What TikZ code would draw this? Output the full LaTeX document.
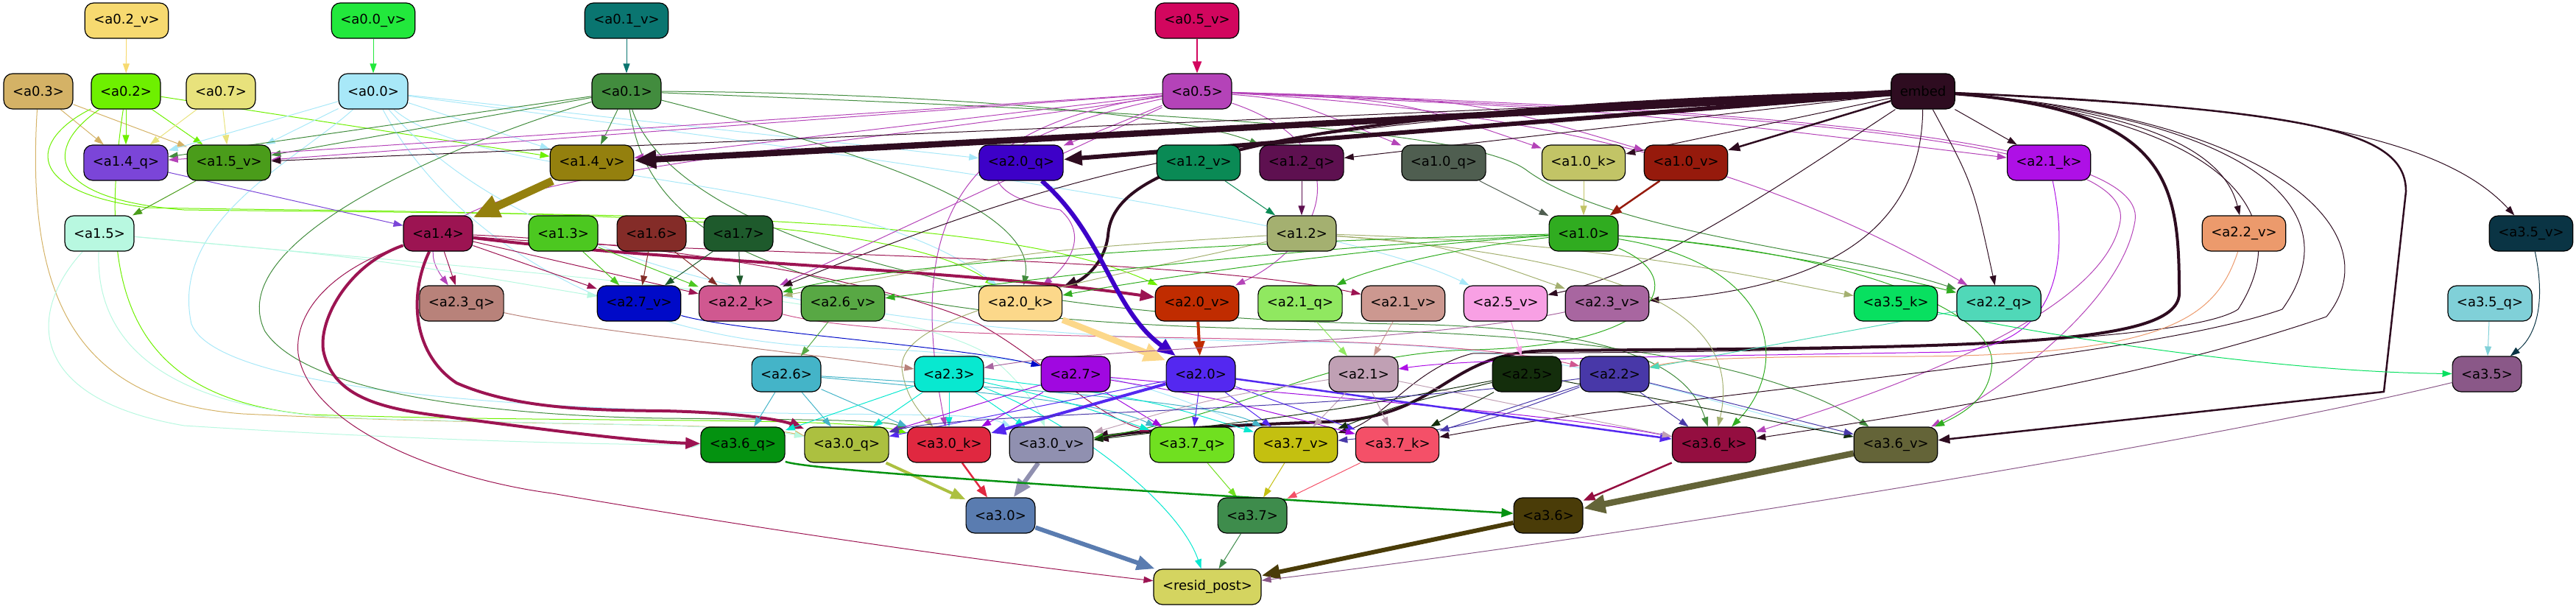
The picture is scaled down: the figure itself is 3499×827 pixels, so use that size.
\documentclass[tikz,border=0pt]{standalone}
\usepackage{fontspec}
\setmainfont{DejaVu Sans}
\usetikzlibrary{arrows.meta}
\pgfdeclarelayer{background}
\pgfsetlayers{background,main}
\definecolor{C02v}{HTML}{F7DA70}\definecolor{C00v}{HTML}{22E83C}\definecolor{C01v}{HTML}{0A7570}\definecolor{C05v}{HTML}{D2065E}
\definecolor{C03}{HTML}{D4B266}\definecolor{C02}{HTML}{6EF000}\definecolor{C07}{HTML}{E8E27C}\definecolor{C00}{HTML}{A8E8F8}
\definecolor{C01}{HTML}{428C3E}\definecolor{C05}{HTML}{B443B8}\definecolor{Cem}{HTML}{2E0C20}
\definecolor{C14q}{HTML}{7B45D8}\definecolor{C15v}{HTML}{4A9C1A}\definecolor{C14v}{HTML}{94800E}\definecolor{C20q}{HTML}{3D00C8}
\definecolor{C12v}{HTML}{0A8A55}\definecolor{C12q}{HTML}{5E1050}\definecolor{C10q}{HTML}{4F5E50}\definecolor{C10k}{HTML}{C2C466}
\definecolor{C10v}{HTML}{961A0C}\definecolor{C21k}{HTML}{AE10E6}
\definecolor{C15}{HTML}{B8F8E0}\definecolor{C14}{HTML}{9C1452}\definecolor{C13}{HTML}{4CC820}\definecolor{C16}{HTML}{842C28}
\definecolor{C17}{HTML}{1E5A2C}\definecolor{C12}{HTML}{A4B070}\definecolor{C10}{HTML}{30AC20}\definecolor{C22v}{HTML}{EC9A6C}
\definecolor{C35v}{HTML}{0A3444}
\definecolor{C23q}{HTML}{B8827A}\definecolor{C27v}{HTML}{000AC8}\definecolor{C22k}{HTML}{D05890}\definecolor{C26v}{HTML}{58A844}
\definecolor{C20k}{HTML}{FCD88A}\definecolor{C20v}{HTML}{C02C00}\definecolor{C21q}{HTML}{90E860}\definecolor{C21v}{HTML}{CC9890}
\definecolor{C25v}{HTML}{F8A0E4}\definecolor{C23v}{HTML}{A866A0}\definecolor{C35k}{HTML}{08E060}\definecolor{C22q}{HTML}{50D8B8}
\definecolor{C35q}{HTML}{80D0D8}
\definecolor{C26}{HTML}{44B4C8}\definecolor{C23}{HTML}{08E8D0}\definecolor{C27}{HTML}{A008E0}\definecolor{C20}{HTML}{5428F0}
\definecolor{C21}{HTML}{C0A0B4}\definecolor{C25}{HTML}{142E0C}\definecolor{C22}{HTML}{4838A8}\definecolor{C35}{HTML}{8A5888}
\definecolor{C36q}{HTML}{049210}\definecolor{C30q}{HTML}{ACC040}\definecolor{C30k}{HTML}{E02840}\definecolor{C30v}{HTML}{9090B0}
\definecolor{C37q}{HTML}{70E020}\definecolor{C37v}{HTML}{C4C010}\definecolor{C37k}{HTML}{F45068}\definecolor{C36k}{HTML}{940E40}
\definecolor{C36v}{HTML}{646438}\definecolor{C30}{HTML}{5A7CB0}\definecolor{C37}{HTML}{3E8C4C}\definecolor{C36}{HTML}{4A3C08}
\definecolor{Cres}{HTML}{D4D460}
\tikzset{
  nd/.style={draw=black, line width=1.2pt, rounded corners=12pt, minimum height=48pt, inner xsep=12pt, inner ysep=0pt, font=\fontsize{18}{21}\selectfont, text=black},
  e1/.style={draw=#1, line width=1pt, -{Triangle[length=13pt,width=9pt]}},
  e2/.style={draw=#1, line width=2.5pt, -{Triangle[length=16pt,width=12pt]}},
  e3/.style={draw=#1, line width=4pt, -{Triangle[length=20pt,width=15pt]}},
  e4/.style={draw=#1, line width=6pt, -{Triangle[length=25pt,width=19pt]}},
  e5/.style={draw=#1, line width=8.5pt, -{Triangle[length=30pt,width=24pt]}},
  e6/.style={draw=#1, line width=11pt, -{Triangle[length=36pt,width=30pt]}}
}
\begin{document}
\begin{tikzpicture}[x=1pt,y=-1pt]
\useasboundingbox (0,0) rectangle (3499,827);
% row 0
\node[nd,fill=C02v] (a02v) at (172,28) {<a0.2\_v>};
\node[nd,fill=C00v] (a00v) at (507,28) {<a0.0\_v>};
\node[nd,fill=C01v] (a01v) at (851,28) {<a0.1\_v>};
\node[nd,fill=C05v] (a05v) at (1626,28) {<a0.5\_v>};
% row 1
\node[nd,fill=C03] (a03) at (52,124) {<a0.3>};
\node[nd,fill=C02] (a02) at (171,124) {<a0.2>};
\node[nd,fill=C07] (a07) at (300,124) {<a0.7>};
\node[nd,fill=C00] (a00) at (507,124) {<a0.0>};
\node[nd,fill=C01] (a01) at (851,124) {<a0.1>};
\node[nd,fill=C05] (a05) at (1626,124) {<a0.5>};
\node[nd,fill=Cem] (emb) at (2612,124) {embed};
% row 2
\node[nd,fill=C14q] (a14q) at (171,221) {<a1.4\_q>};
\node[nd,fill=C15v] (a15v) at (311,221) {<a1.5\_v>};
\node[nd,fill=C14v] (a14v) at (804,221) {<a1.4\_v>};
\node[nd,fill=C20q] (a20q) at (1387,221) {<a2.0\_q>};
\node[nd,fill=C12v] (a12v) at (1628,221) {<a1.2\_v>};
\node[nd,fill=C12q] (a12q) at (1768,221) {<a1.2\_q>};
\node[nd,fill=C10q] (a10q) at (1961,221) {<a1.0\_q>};
\node[nd,fill=C10k] (a10k) at (2151,221) {<a1.0\_k>};
\node[nd,fill=C10v] (a10v) at (2290,221) {<a1.0\_v>};
\node[nd,fill=C21k] (a21k) at (2783,221) {<a2.1\_k>};
% row 3
\node[nd,fill=C15] (a15) at (135,317) {<a1.5>};
\node[nd,fill=C14] (a14) at (595,317) {<a1.4>};
\node[nd,fill=C13] (a13) at (765,317) {<a1.3>};
\node[nd,fill=C16] (a16) at (885,317) {<a1.6>};
\node[nd,fill=C17] (a17) at (1003,317) {<a1.7>};
\node[nd,fill=C12] (a12) at (1768,317) {<a1.2>};
\node[nd,fill=C10] (a10) at (2151,317) {<a1.0>};
\node[nd,fill=C22v] (a22v) at (3048,317) {<a2.2\_v>};
\node[nd,fill=C35v] (a35v) at (3438,317) {<a3.5\_v>};
% row 4
\node[nd,fill=C23q] (a23q) at (627,412) {<a2.3\_q>};
\node[nd,fill=C27v] (a27v) at (868,412) {<a2.7\_v>};
\node[nd,fill=C22k] (a22k) at (1006,412) {<a2.2\_k>};
\node[nd,fill=C26v] (a26v) at (1145,412) {<a2.6\_v>};
\node[nd,fill=C20k] (a20k) at (1386,412) {<a2.0\_k>};
\node[nd,fill=C20v] (a20v) at (1626,412) {<a2.0\_v>};
\node[nd,fill=C21q] (a21q) at (1766,412) {<a2.1\_q>};
\node[nd,fill=C21v] (a21v) at (1906,412) {<a2.1\_v>};
\node[nd,fill=C25v] (a25v) at (2045,412) {<a2.5\_v>};
\node[nd,fill=C23v] (a23v) at (2183,412) {<a2.3\_v>};
\node[nd,fill=C35k] (a35k) at (2575,412) {<a3.5\_k>};
\node[nd,fill=C22q] (a22q) at (2715,412) {<a2.2\_q>};
\node[nd,fill=C35q] (a35q) at (3382,412) {<a3.5\_q>};
% row 5
\node[nd,fill=C26] (a26) at (1068,508) {<a2.6>};
\node[nd,fill=C23] (a23) at (1289,508) {<a2.3>};
\node[nd,fill=C27] (a27) at (1461,508) {<a2.7>};
\node[nd,fill=C20] (a20) at (1631,508) {<a2.0>};
\node[nd,fill=C21] (a21) at (1852,508) {<a2.1>};
\node[nd,fill=C25] (a25) at (2074,508) {<a2.5>};
\node[nd,fill=C22] (a22) at (2193,508) {<a2.2>};
\node[nd,fill=C35] (a35) at (3378,508) {<a3.5>};
% row 6
\node[nd,fill=C36q] (a36q) at (1009,604) {<a3.6\_q>};
\node[nd,fill=C30q] (a30q) at (1150,604) {<a3.0\_q>};
\node[nd,fill=C30k] (a30k) at (1289,604) {<a3.0\_k>};
\node[nd,fill=C30v] (a30v) at (1428,604) {<a3.0\_v>};
\node[nd,fill=C37q] (a37q) at (1619,604) {<a3.7\_q>};
\node[nd,fill=C37v] (a37v) at (1760,604) {<a3.7\_v>};
\node[nd,fill=C37k] (a37k) at (1898,604) {<a3.7\_k>};
\node[nd,fill=C36k] (a36k) at (2328,604) {<a3.6\_k>};
\node[nd,fill=C36v] (a36v) at (2575,604) {<a3.6\_v>};
% row 7
\node[nd,fill=C30] (a30) at (1359,700) {<a3.0>};
\node[nd,fill=C37] (a37) at (1701,700) {<a3.7>};
\node[nd,fill=C36] (a36) at (2103,700) {<a3.6>};
% row 8
\node[nd,fill=Cres] (resid) at (1640,797) {<resid\_post>};

\begin{pgfonlayer}{background}
% row 0
\draw[e1=C02v] (a02v) -- (a02);
\draw[e1=C00v] (a00v) -- (a00);
\draw[e1=C01v] (a01v) -- (a01);
\draw[e2=C05v] (a05v) -- (a05);
% a0.3
\draw[e1=C03] (a03) -- (a14q);
\draw[e1=C03] (a03) -- (a15v);
\draw[e1=C03] (a03) .. controls (35,400) and (100,545) .. (330,562) .. controls (700,580) and (1000,572) .. (a30q);
% a0.2
\draw[e1=C02] (a02) -- (a14q);
\draw[e1=C02] (a02) -- (a15v);
\draw[e1=C02] (a02) -- (a14v);
\draw[e1=C02] (a02) .. controls (40,190) and (30,260) .. (200,282) .. controls (600,290) and (1200,280) .. (a20k);
\draw[e1=C02] (a02) .. controls (60,200) and (60,270) .. (250,285) .. controls (800,292) and (1350,285) .. (a20v);
\draw[e1=C02] (a02) .. controls (130,400) and (180,540) .. (420,563) .. controls (800,575) and (1150,565) .. (a30k);
% a0.7
\draw[e1=C07] (a07) -- (a14q);
\draw[e1=C07] (a07) -- (a15v);
% a0.0
\draw[e1=C00] (a00) -- (a14q);
\draw[e1=C00] (a00) -- (a15v);
\draw[e1=C00] (a00) -- (a14v);
\draw[e1=C00] (a00) -- (a20q);
\draw[e1=C00] (a00) .. controls (1000,190) and (1800,290) .. (a25v);
\draw[e1=C00] (a00) .. controls (650,250) and (1150,230) .. (a20k);
\draw[e1=C00] (a00) .. controls (400,220) and (230,300) .. (260,440) .. controls (300,540) and (800,555) .. (1000,560) .. controls (1250,565) and (1330,560) .. (a30v);
\draw[e1=C00] (a00) .. controls (600,300) and (800,450) .. (1100,470) .. controls (1450,480) and (1550,520) .. (a37v);
\draw[e1=C00] (a00) .. controls (700,350) and (1100,460) .. (1800,465) .. controls (2150,468) and (2350,560) .. (a36v);
% a0.1
\draw[e1=C01] (a01) -- (a14q);
\draw[e1=C01] (a01) -- (a15v);
\draw[e1=C01] (a01) -- (a14v);
\draw[e1=C01] (a01) .. controls (1200,125) and (1600,150) .. (a12q);
\draw[e1=C01] (a01) .. controls (1150,200) and (1410,280) .. (a20k);
\draw[e1=C01] (a01) .. controls (1500,150) and (2000,170) .. (2076,233) .. controls (2200,320) and (2500,340) .. (a22q);
\draw[e1=C01] (a01) .. controls (880,300) and (1000,440) .. (1800,448) .. controls (2250,452) and (2450,520) .. (a36v);
\draw[e1=C01] (a01) .. controls (900,280) and (1200,430) .. (1900,440) .. controls (2250,445) and (2300,520) .. (a36k);
\draw[e1=C01] (a01) .. controls (600,200) and (300,330) .. (360,450) .. controls (420,540) and (700,565) .. (900,568) .. controls (1100,570) and (1200,570) .. (a30k);
% a0.5
\draw[e1=C05] (a05) -- (a14q);
\draw[e1=C05] (a05) -- (a15v);
\draw[e1=C05] (a05) -- (a14v);
\draw[e1=C05] (a05) -- (a20q);
\draw[e1=C05] (a05) -- (a22k);
\draw[e1=C05] (a05) .. controls (1320,190) and (1300,260) .. (1440,285) .. controls (1480,320) and (1450,360) .. (a20k);
\draw[e1=C05] (a05) .. controls (1000,220) and (500,240) .. (a23q);
\draw[e1=C05] (a05) .. controls (1750,135) .. (a10q);
\draw[e1=C05] (a05) .. controls (1900,135) .. (a10k);
\draw[e1=C05] (a05) .. controls (2000,135) .. (a10v);
\draw[e1=C05] (a05) .. controls (2200,150) .. (a21k);
\draw[e1=C05] (a05) .. controls (2100,150) and (2400,230) .. (a22q);
\draw[e1=C05] (a05) .. controls (1850,200) and (1800,330) .. (a20v);
\draw[e1=C05] (a05) .. controls (2300,150) and (2900,180) .. (2880,300) .. controls (2860,420) and (2600,520) .. (a36k);
\draw[e1=C05] (a05) .. controls (2300,145) and (2920,180) .. (2900,300) .. controls (2880,420) and (2700,540) .. (a36v);
\draw[e1=C05] (a05) .. controls (1300,170) and (1230,300) .. (a30k);
% embed
\draw[e5=Cem] (emb) -- (a14v);
\draw[e4=Cem] (emb) -- (a20q);
\draw[e3=Cem] (emb) .. controls (1600,150) and (1510,250) .. (1505,320) .. controls (1500,360) and (1470,380) .. (a20k);
\draw[e1=Cem] (emb) -- (a15v);
\draw[e1=Cem] (emb) -- (a12q);
\draw[e1=Cem] (emb) -- (a10k);
\draw[e2=Cem] (emb) -- (a10v);
\draw[e1=Cem] (emb) -- (a21k);
\draw[e1=Cem] (emb) .. controls (2680,250) .. (a22q);
\draw[e1=Cem] (emb) .. controls (2900,150) and (3020,200) .. (a22v);
\draw[e1=Cem] (emb) .. controls (3150,145) and (3330,200) .. (a35v);
\draw[e1=Cem] (emb) .. controls (2450,230) and (2250,370) .. (a25v);
\draw[e1=Cem] (emb) .. controls (2610,300) and (2500,390) .. (a23v);
\draw[e1=Cem] (emb) .. controls (1700,160) and (1480,220) .. (a22k);
\draw[e3=Cem] (emb) .. controls (2950,150) and (2960,250) .. (2960,400) .. controls (2955,470) and (2700,472) .. (2100,476) .. controls (1960,480) and (1960,568) .. (1800,573) .. controls (1650,578) and (1550,585) .. (a30v);
\draw[e2=Cem] (emb) .. controls (3150,150) and (3268,180) .. (3268,260) -- (3238,532) -- (a36v);
\draw[e1=Cem] (emb) .. controls (3050,160) and (3200,280) .. (3100,420) .. controls (2900,490) and (2300,530) .. (a37k);
\draw[e1=Cem] (emb) .. controls (3100,160) and (3250,320) .. (3160,430) .. controls (2900,520) and (2550,570) .. (a36k);
\draw[e1=Cem] (emb) .. controls (3000,160) and (3130,280) .. (3040,420) .. controls (2950,480) and (2200,478) .. (2000,480) .. controls (1920,500) and (1880,570) .. (a37v);
% layer 1 internal
\draw[e1=C14q] (a14q) -- (a14);
\draw[e1=C15v] (a15v) -- (a15);
\draw[e6=C14v] (a14v) -- (a14);
\draw[e1=C12v] (a12v) -- (a12);
\draw[e1=C12q] (a12q) -- (a12);
\draw[e1=C10q] (a10q) -- (a10);
\draw[e1=C10k] (a10k) -- (a10);
\draw[e2=C10v] (a10v) -- (a10);
% a1.5
\draw[e1=C15] (a15) .. controls (500,350) .. (a27v);
\draw[e1=C15] (a15) .. controls (40,420) and (30,540) .. (250,578) .. controls (600,600) and (850,604) .. (a36q);
\draw[e1=C15] (a15) .. controls (130,450) and (200,550) .. (460,567) .. controls (800,578) and (1000,575) .. (a30q);
\draw[e1=C15] (a15) .. controls (700,370) and (1200,400) .. (1340,480) .. controls (1390,520) and (1410,555) .. (a30v);
% a1.4
\draw[e1=C14] (a14) -- (a23q);
\draw[e1=C14] (a14) -- (a27v);
\draw[e1=C14] (a14) -- (a22k);
\draw[e3=C14] (a14) .. controls (900,355) and (1300,365) .. (a20v);
\draw[e1=C14] (a14) .. controls (900,345) and (1600,345) .. (a21v);
\draw[e3=C14] (a14) .. controls (470,360) and (430,440) .. (440,480) .. controls (455,540) and (520,555) .. (600,565) .. controls (750,585) and (870,600) .. (a36q);
\draw[e3=C14] (a14) .. controls (555,400) and (560,480) .. (620,520) .. controls (700,555) and (800,557) .. (900,558) .. controls (1000,560) and (1060,570) .. (a30q);
\draw[e1=C14] (a14) .. controls (440,370) and (400,430) .. (405,480) .. controls (420,580) and (600,650) .. (750,670) .. controls (1100,730) and (1400,770) .. (resid);
\draw[e1=C14] (a14) .. controls (900,330) and (1200,380) .. (1330,440) .. controls (1420,490) and (1480,560) .. (a37q);
% a1.3 a1.6 a1.7
\draw[e1=C13] (a13) -- (a27v);
\draw[e1=C13] (a13) -- (a22k);
\draw[e1=C16] (a16) -- (a27v);
\draw[e1=C16] (a16) -- (a22k);
\draw[e1=C17] (a17) -- (a27v);
\draw[e1=C17] (a17) -- (a22k);
% a1.2
\draw[e1=C12] (a12) .. controls (1400,340) .. (a22k);
\draw[e1=C12] (a12) .. controls (1500,380) and (1220,420) .. (1225,500) .. controls (1230,540) and (1250,560) .. (a30k);
\draw[e1=C12] (a12) .. controls (1950,330) .. (a23v);
\draw[e1=C12] (a12) .. controls (2200,330) and (2400,380) .. (a35k);
\draw[e1=C12] (a12) .. controls (2200,350) and (2370,420) .. (a36k);
% a1.0
\draw[e1=C10] (a10) .. controls (1600,330) and (1200,360) .. (a22k);
\draw[e1=C10] (a10) .. controls (1700,340) and (1400,380) .. (a26v);
\draw[e1=C10] (a10) .. controls (1800,340) and (1500,390) .. (a20k);
\draw[e1=C10] (a10) .. controls (1950,340) and (1850,370) .. (a21q);
\draw[e1=C10] (a10) .. controls (2350,330) and (2550,370) .. (a22q);
\draw[e1=C10] (a10) .. controls (2420,360) and (2430,500) .. (a36k);
\draw[e1=C10] (a10) .. controls (2500,340) and (2720,420) .. (2705,500) .. controls (2700,540) and (2670,560) .. (a36v);
\draw[e1=C10] (a10) .. controls (2300,380) and (2250,470) .. (2000,475) .. controls (1800,480) and (1700,560) .. (a30v);
% row 4 -> row 5
\draw[e1=C23q] (a23q) .. controls (800,450) and (1100,480) .. (a23);
\draw[e1=C27v] (a27v) .. controls (1000,450) and (1300,470) .. (a27);
\draw[e1=C22k] (a22k) .. controls (1250,475) and (1900,440) .. (a22);
\draw[e1=C26v] (a26v) -- (a26);
\draw[e4=C20q] (a20q) .. controls (1500,320) and (1510,420) .. (a20);
\draw[e5=C20k] (a20k) -- (a20);
\draw[e3=C20v] (a20v) -- (a20);
\draw[e1=C21q] (a21q) -- (a21);
\draw[e1=C21v] (a21v) -- (a21);
\draw[e1=C21k] (a21k) .. controls (2810,350) and (2800,470) .. (2650,478) .. controls (2300,484) and (2000,486) .. (a21);
\draw[e1=C25v] (a25v) -- (a25);
\draw[e1=C23v] (a23v) .. controls (1900,470) and (1500,470) .. (a23);
\draw[e1=C22v] (a22v) .. controls (3010,430) and (2950,482) .. (2600,484) .. controls (2400,484) and (2300,486) .. (a22);
\draw[e1=C22q] (a22q) -- (a22);
\draw[e1=C35k] (a35k) .. controls (2800,460) and (3100,505) .. (a35);
\draw[e1=C35q] (a35q) -- (a35);
\draw[e1=C35v] (a35v) .. controls (3460,420) and (3440,460) .. (a35);
% row 5 -> row 6
\draw[e1=C26] (a26) -- (a36q);
\draw[e1=C26] (a26) -- (a30q);
\draw[e1=C26] (a26) -- (a30k);
\draw[e1=C26] (a26) .. controls (1300,530) and (1500,545) .. (a37q);
\draw[e1=C26] (a26) .. controls (1350,525) and (1650,545) .. (a37v);
\draw[e1=C23] (a23) -- (a36q);
\draw[e1=C23] (a23) -- (a30q);
\draw[e1=C23] (a23) -- (a30k);
\draw[e1=C23] (a23) -- (a30v);
\draw[e1=C23] (a23) .. controls (1450,545) .. (a37q);
\draw[e1=C23] (a23) .. controls (1550,540) .. (a37v);
\draw[e1=C23] (a23) .. controls (1450,570) and (1600,680) .. (resid);
\draw[e1=C27] (a27) -- (a30q);
\draw[e1=C27] (a27) -- (a30k);
\draw[e1=C27] (a27) -- (a37q);
\draw[e1=C27] (a27) .. controls (1650,540) .. (a37k);
\draw[e1=C27] (a27) .. controls (1800,540) and (2100,560) .. (a36k);
\draw[e3=C20] (a20) -- (a30k);
\draw[e1=C20] (a20) -- (a30q);
\draw[e1=C20] (a20) -- (a37q);
\draw[e1=C20] (a20) -- (a37v);
\draw[e1=C20] (a20) -- (a37k);
\draw[e2=C20] (a20) -- (a36k);
\draw[e1=C21] (a21) -- (a37v);
\draw[e1=C21] (a21) -- (a37k);
\draw[e1=C21] (a21) -- (a36k);
\draw[e1=C21] (a21) .. controls (1650,540) .. (a30v);
\draw[e1=C25] (a25) -- (a37k);
\draw[e1=C25] (a25) -- (a36v);
\draw[e1=C25] (a25) .. controls (1800,560) .. (a30v);
\draw[e1=C25] (a25) .. controls (1900,550) .. (a37v);
\draw[e1=C22] (a22) -- (a37k);
\draw[e1=C22] (a22) -- (a36k);
\draw[e1=C22] (a22) -- (a36v);
\draw[e1=C22] (a22) .. controls (2000,580) .. (a37v);
\draw[e1=C22] (a22) .. controls (1800,560) and (1300,560) .. (a30q);
% row 6 -> row 7
\draw[e1=C37q] (a37q) -- (a37);
\draw[e1=C37v] (a37v) -- (a37);
\draw[e1=C37k] (a37k) -- (a37);
\draw[e3=C30q] (a30q) -- (a30);
\draw[e2=C30k] (a30k) -- (a30);
\draw[e4=C30v] (a30v) -- (a30);
\draw[e2=C36q] (a36q) .. controls (1100,640) and (1600,670) .. (a36);
\draw[e2=C36k] (a36k) -- (a36);
\draw[e5=C36v] (a36v) -- (a36);
% -> resid
\draw[e4=C30] (a30) -- (resid);
\draw[e1=C37] (a37) -- (resid);
\draw[e4=C36] (a36) -- (resid);
\draw[e1=C35] (a35) .. controls (3000,600) and (2200,730) .. (resid);
\end{pgfonlayer}
\end{tikzpicture}
\end{document}
